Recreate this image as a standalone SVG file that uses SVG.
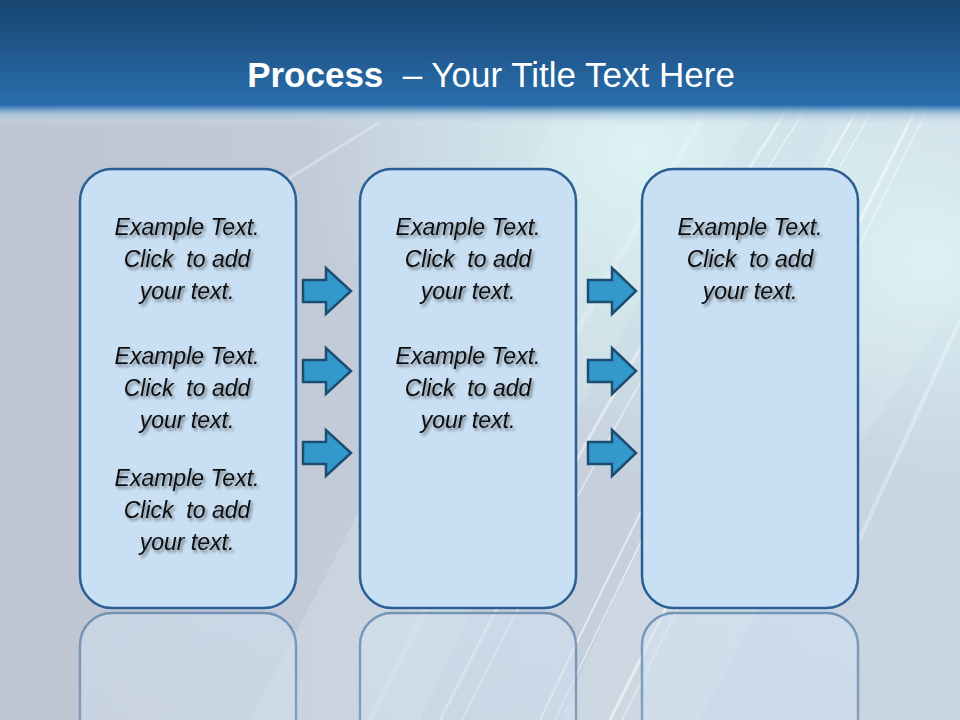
<svg xmlns="http://www.w3.org/2000/svg" width="960" height="720" viewBox="0 0 960 720">
<defs>
  <linearGradient id="hdr" x1="0" y1="0" x2="0" y2="1">
    <stop offset="0" stop-color="#17446f"/>
    <stop offset="1" stop-color="#2a6fae"/>
  </linearGradient>
  <linearGradient id="hdrFade" x1="0" y1="0" x2="0" y2="1">
    <stop offset="0" stop-color="#2a6fae" stop-opacity="1"/>
    <stop offset="0.4" stop-color="#9dbdd8" stop-opacity="0.75"/>
    <stop offset="1" stop-color="#e6eef2" stop-opacity="0"/>
  </linearGradient>
  <linearGradient id="body" x1="0" y1="0" x2="1" y2="0">
    <stop offset="0" stop-color="#bec4d2"/>
    <stop offset="0.45" stop-color="#c5cdda"/>
    <stop offset="1" stop-color="#c9d6e4"/>
  </linearGradient>
  <radialGradient id="glow1" cx="640" cy="150" r="330" gradientUnits="userSpaceOnUse">
    <stop offset="0" stop-color="#dcf4f4" stop-opacity="0.95"/>
    <stop offset="0.6" stop-color="#d2ecef" stop-opacity="0.5"/>
    <stop offset="1" stop-color="#d2ecef" stop-opacity="0"/>
  </radialGradient>
  <radialGradient id="glow2" cx="930" cy="260" r="220" gradientUnits="userSpaceOnUse">
    <stop offset="0" stop-color="#def4f5" stop-opacity="0.9"/>
    <stop offset="1" stop-color="#d6eef2" stop-opacity="0"/>
  </radialGradient>
  <linearGradient id="reflStroke" x1="0" y1="0" x2="0" y2="1">
    <stop offset="0" stop-color="#5f84aa" stop-opacity="0.8"/>
    <stop offset="1" stop-color="#7f9cbc" stop-opacity="0.45"/>
  </linearGradient>
  <linearGradient id="reflFill" x1="0" y1="0" x2="0" y2="1">
    <stop offset="0" stop-color="#d3e2f2" stop-opacity="0.55"/>
    <stop offset="1" stop-color="#d3e2f2" stop-opacity="0.15"/>
  </linearGradient>
  <filter id="shadow" x="-10%" y="-30%" width="130%" height="170%">
    <feDropShadow dx="2" dy="2.5" stdDeviation="1.6" flood-color="#000" flood-opacity="0.45"/>
  </filter>
  <clipPath id="bodyClip"><rect x="0" y="105" width="960" height="615"/></clipPath>
</defs>
<style>
  .box { fill: #c9dff3; stroke: #2a5f95; stroke-width: 2.5; }
  .refl { fill: url(#reflFill); stroke: url(#reflStroke); stroke-width: 2.5; }
  .arrow { fill: #3399cc; stroke: #1d4d72; stroke-width: 2.5; stroke-linejoin: miter; }
  .txt { font-family: "Liberation Sans", Arial, sans-serif; font-style: italic; font-size: 23px; fill: #111; text-anchor: middle; }
  .streak { stroke: #ffffff; fill: none; }
  .title { font-family: "Liberation Sans", Arial, sans-serif; font-size: 35px; fill: #ffffff; }
</style>

<!-- background -->
<rect x="0" y="0" width="960" height="720" fill="url(#body)"/>
<g clip-path="url(#bodyClip)">
  <rect x="0" y="0" width="960" height="720" fill="url(#glow1)"/>
  <rect x="0" y="0" width="960" height="720" fill="url(#glow2)"/>
  <path d="M560,105 L760,105 Q560,420 420,720 L250,720 Q420,400 560,105 Z" fill="#e4f6f7" opacity="0.22"/>
  <path d="M840,105 L960,105 L960,300 Q800,520 700,720 L560,720 Q700,400 840,105 Z" fill="#e4f6f7" opacity="0.2"/>
  <path class="streak" d="M790,105 Q610,380 440,720" stroke-width="3" opacity="0.45"/>
  <path class="streak" d="M808,105 Q630,380 462,720" stroke-width="1.5" opacity="0.5"/>
  <path class="streak" d="M860,105 Q690,400 540,720" stroke-width="2" opacity="0.55"/>
  <path class="streak" d="M875,105 Q705,400 555,720" stroke-width="1.2" opacity="0.6"/>
  <path class="streak" d="M918,105 Q760,420 610,720" stroke-width="3" opacity="0.5"/>
  <path class="streak" d="M930,105 Q772,420 622,720" stroke-width="1.2" opacity="0.55"/>
  <path class="streak" d="M710,105 Q530,400 370,720" stroke-width="6" opacity="0.2"/>
  <line class="streak" x1="380" y1="122" x2="230" y2="215" stroke-width="3" opacity="0.3"/>
  <line class="streak" x1="960" y1="320" x2="850" y2="560" stroke-width="4" opacity="0.3"/>
</g>

<!-- header -->
<rect x="0" y="0" width="960" height="106" fill="url(#hdr)"/>
<rect x="0" y="105" width="960" height="22" fill="url(#hdrFade)"/>
<text class="title" x="491" y="87" text-anchor="middle"><tspan font-weight="bold">Process</tspan><tspan xml:space="preserve">  – Your Title Text Here</tspan></text>

<!-- reflections -->
<g id="reflections">
  <rect class="refl" x="80" y="613" width="216" height="440" rx="32" ry="32"/>
  <rect class="refl" x="360" y="613" width="216" height="440" rx="32" ry="32"/>
  <rect class="refl" x="642" y="613" width="216" height="440" rx="32" ry="32"/>
</g>

<!-- nodes -->
<g id="node1">
  <rect class="box" x="80" y="169" width="216" height="439" rx="32" ry="32"/>
  <g filter="url(#shadow)">
    <text class="txt" x="187" y="235">Example Text.</text>
    <text class="txt" x="187" y="267" xml:space="preserve">Click  to add</text>
    <text class="txt" x="187" y="299">your text.</text>
    <text class="txt" x="187" y="364">Example Text.</text>
    <text class="txt" x="187" y="396" xml:space="preserve">Click  to add</text>
    <text class="txt" x="187" y="428">your text.</text>
    <text class="txt" x="187" y="486">Example Text.</text>
    <text class="txt" x="187" y="518" xml:space="preserve">Click  to add</text>
    <text class="txt" x="187" y="550">your text.</text>
  </g>
</g>
<g id="node2">
  <rect class="box" x="360" y="169" width="216" height="439" rx="32" ry="32"/>
  <g filter="url(#shadow)">
    <text class="txt" x="468" y="235">Example Text.</text>
    <text class="txt" x="468" y="267" xml:space="preserve">Click  to add</text>
    <text class="txt" x="468" y="299">your text.</text>
    <text class="txt" x="468" y="364">Example Text.</text>
    <text class="txt" x="468" y="396" xml:space="preserve">Click  to add</text>
    <text class="txt" x="468" y="428">your text.</text>
  </g>
</g>
<g id="node3">
  <rect class="box" x="642" y="169" width="216" height="439" rx="32" ry="32"/>
  <g filter="url(#shadow)">
    <text class="txt" x="750" y="235">Example Text.</text>
    <text class="txt" x="750" y="267" xml:space="preserve">Click  to add</text>
    <text class="txt" x="750" y="299">your text.</text>
  </g>
</g>

<!-- connectors -->
<g id="connectors">
  <path class="arrow" d="M303,280 H326 V268 L351,291 L326,314 V302 H303 Z"/>
  <path class="arrow" d="M303,360 H326 V348 L351,371 L326,394 V382 H303 Z"/>
  <path class="arrow" d="M303,442 H326 V430 L351,453 L326,476 V464 H303 Z"/>
  <path class="arrow" d="M588,280 H612 V268 L636,291 L612,314 V302 H588 Z"/>
  <path class="arrow" d="M588,360 H612 V348 L636,371 L612,394 V382 H588 Z"/>
  <path class="arrow" d="M588,442 H612 V430 L636,453 L612,476 V464 H588 Z"/>
</g>
</svg>
